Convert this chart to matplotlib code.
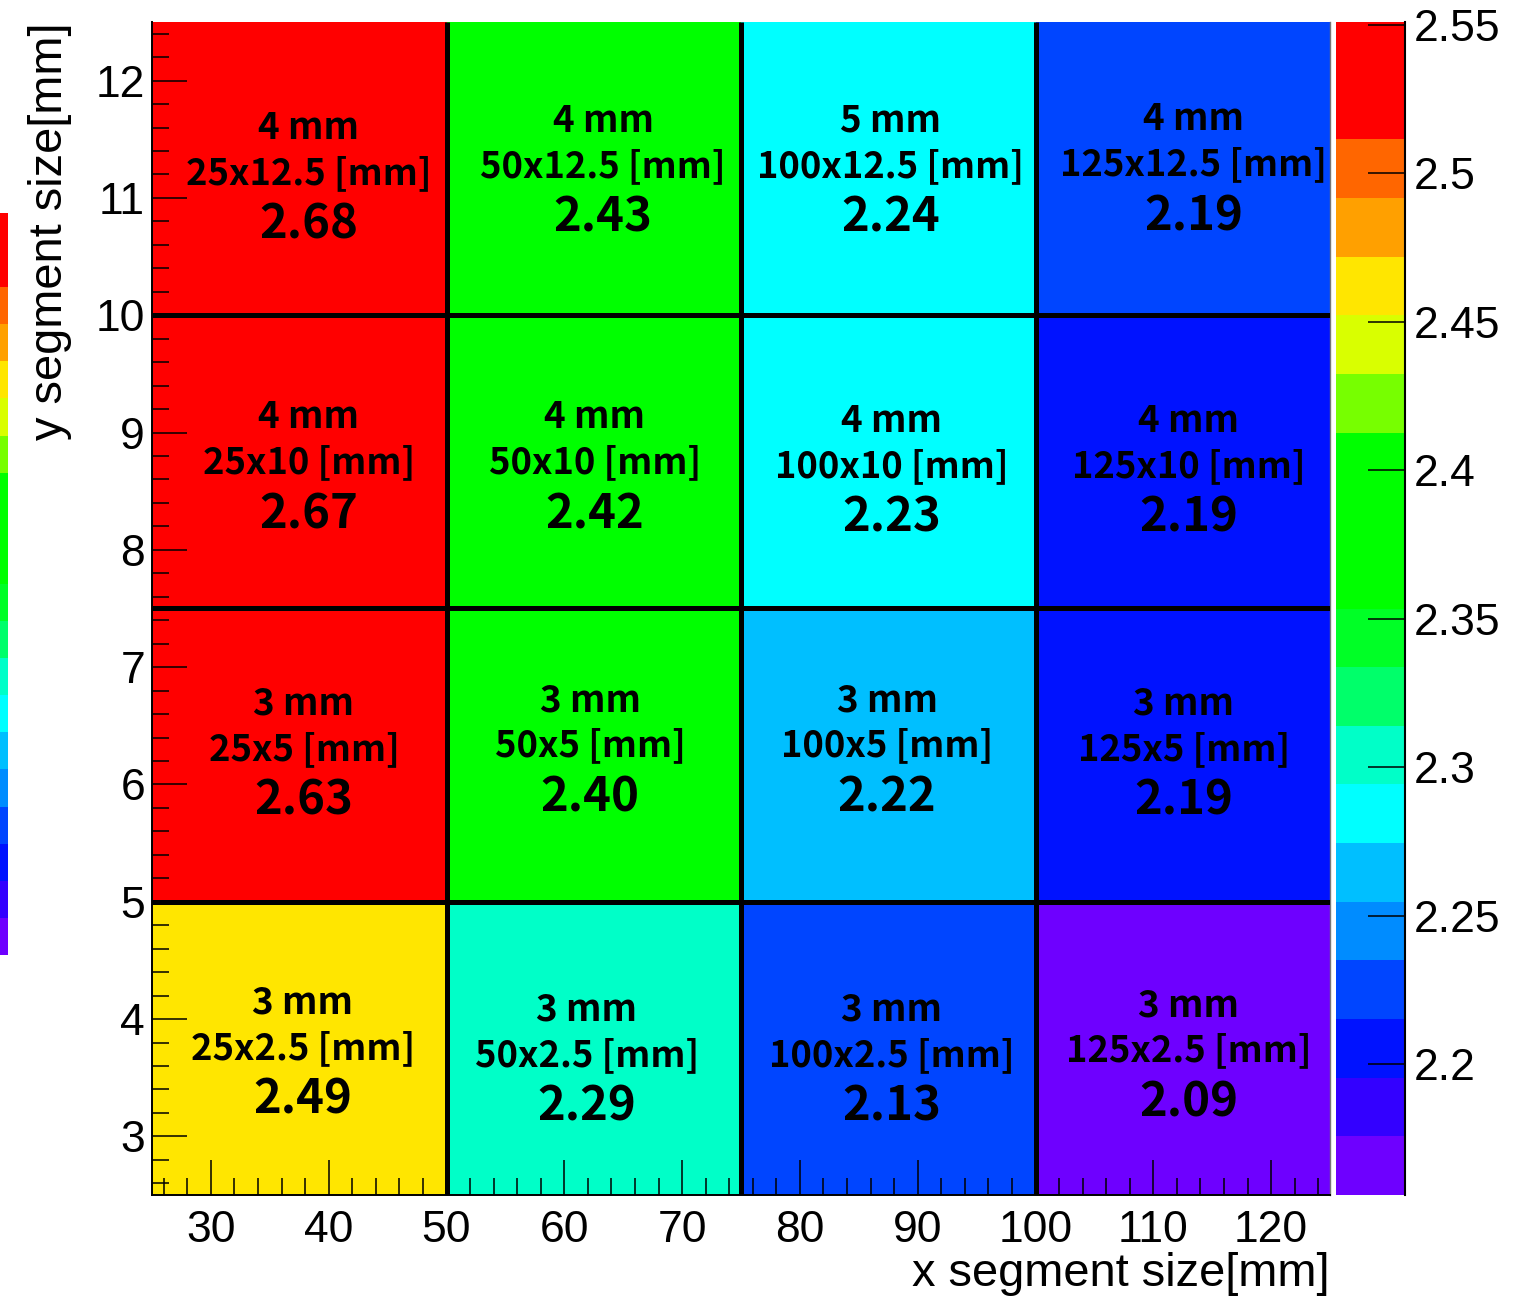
import numpy as np
import matplotlib
matplotlib.use("Agg")
import matplotlib.pyplot as plt
from matplotlib.colors import ListedColormap, BoundaryNorm
from matplotlib.ticker import MultipleLocator

# ---- data -------------------------------------------------------------
x_edges = [25, 50, 75, 100, 125]
y_edges = [2.5, 5, 7.5, 10, 12.5]
seg_x = ["25", "50", "100", "125"]
seg_y = ["2.5", "5", "10", "12.5"]

# rows run from the lowest y bin upwards
thickness = [
    ["3 mm", "3 mm", "3 mm", "3 mm"],
    ["3 mm", "3 mm", "3 mm", "3 mm"],
    ["4 mm", "4 mm", "4 mm", "4 mm"],
    ["4 mm", "4 mm", "5 mm", "4 mm"],
]
label_vals = [
    [2.49, 2.29, 2.13, 2.09],
    [2.63, 2.40, 2.22, 2.19],
    [2.67, 2.42, 2.23, 2.19],
    [2.68, 2.43, 2.24, 2.19],
]
# bin contents of the 2D histogram (colour scale)
hist_z = [
    [2.46, 2.305, 2.225, 2.165],
    [2.63, 2.37, 2.265, 2.205],
    [2.67, 2.38, 2.285, 2.205],
    [2.68, 2.38, 2.285, 2.225],
]
z_min, z_max, n_contours = 2.156, 2.551, 20
cbar_ticks = [2.2, 2.25, 2.3, 2.35, 2.4, 2.45, 2.5, 2.55]

# text anchor (middle line) per cell, data coordinates
label_xy = [
    [(37.8, 3.75), (61.9, 3.69), (87.8, 3.69), (113.0, 3.73)],
    [(37.9, 6.30), (62.2, 6.33), (87.4, 6.33), (112.6, 6.30)],
    [(38.3, 8.74), (62.6, 8.74), (87.8, 8.71), (113.0, 8.71)],
    [(38.3, 11.21), (63.3, 11.27), (87.7, 11.27), (113.4, 11.28)],
]

# ---- palette (20 contour colours, low -> high) ------------------------
palette = ["#6e00ff", "#3300ff", "#0012ff", "#0045ff", "#008cff",
           "#00bfff", "#00ffff", "#00ffc8", "#00ff6a", "#00ff26",
           "#00ff00", "#00ff00", "#00ff00", "#77ff00", "#d9ff00",
           "#ffe600", "#ffa000", "#ff6600", "#ff0000", "#ff0000"]
cmap = ListedColormap(palette)
cmap.set_over("#ff0000")
cmap.set_under("#6e00ff")
levels = np.linspace(z_min, z_max, n_contours + 1)
norm = BoundaryNorm(levels, ncolors=cmap.N, extend="neither")

AX_FONT = "Liberation Sans"
CELL_FONT = ["Noto Sans CJK JP", "DejaVu Sans"]

W, H = 1519, 1297
fig = plt.figure(figsize=(W / 100, H / 100), dpi=100)
fig.patch.set_facecolor("white")

def fx(px):
    return px / W

def fy(py):
    return 1 - py / H

ax = fig.add_axes([fx(152), fy(1195), fx(1330) - fx(152), fy(22) - fy(1195)])
mesh = ax.pcolormesh(x_edges, y_edges, np.array(hist_z), cmap=cmap, norm=norm)

# thick separators between the cells
ax.vlines(x_edges[1:-1], y_edges[0], y_edges[-1], colors="black", lw=3.6, zorder=3)
ax.hlines(y_edges[1:-1], x_edges[0], x_edges[-1], colors="black", lw=3.6, zorder=3)

ax.set_xlim(x_edges[0], x_edges[-1])
ax.set_ylim(y_edges[0], y_edges[-1])
ax.xaxis.set_major_locator(MultipleLocator(10))
ax.xaxis.set_minor_locator(MultipleLocator(2))
ax.yaxis.set_major_locator(MultipleLocator(1))
ax.yaxis.set_minor_locator(MultipleLocator(0.2))
ax.tick_params(which="both", direction="in", top=False, right=False, colors="black", width=1.1)
ax.tick_params(which="major", length=25.5)
ax.tick_params(which="minor", length=12.5)
ax.tick_params(axis="x", which="major", pad=11)
ax.tick_params(axis="y", which="major", pad=5)
for lab in ax.get_xticklabels() + ax.get_yticklabels():
    lab.set_fontfamily(AX_FONT)
    lab.set_fontsize(32)
ax.spines["top"].set_visible(False)
for s in ("left", "bottom"):
    ax.spines[s].set_linewidth(1.4)
ax.spines["right"].set_linewidth(1.0)
ax.spines["right"].set_color("#777777")

# cell annotations
for r in range(len(y_edges) - 1):
    for c in range(len(x_edges) - 1):
        x0, y0 = label_xy[r][c]
        ax.annotate(thickness[r][c], (x0, y0), xytext=(0, 32.5), textcoords="offset points",
                    ha="center", va="center", fontsize=26.5, fontweight="bold",
                    family=CELL_FONT, zorder=4)
        ax.annotate(f"{seg_x[c]}x{seg_y[r]} [mm]", (x0, y0), xytext=(0, 0),
                    textcoords="offset points", ha="center", va="center",
                    fontsize=26.2, fontweight="bold", family=CELL_FONT, zorder=4)
        ax.annotate(f"{label_vals[r][c]:.2f}", (x0, y0), xytext=(0, -37),
                    textcoords="offset points", ha="center", va="center",
                    fontsize=34, fontweight="bold", family=CELL_FONT, zorder=4)

# axis titles
fig.text(fx(50), fy(22), "y segment size[mm]", rotation=90, ha="center", va="top",
         fontsize=33.8, family=AX_FONT)
fig.text(fx(1330), fy(1274), "x segment size[mm]", ha="right", va="center",
         fontsize=33.8, family=AX_FONT)

# palette axis
cax = fig.add_axes([fx(1336), fy(1195), fx(1405) - fx(1336), fy(22) - fy(1195)])
cb = fig.colorbar(mesh, cax=cax, ticks=cbar_ticks)
cb.outline.set_visible(False)
cax.plot([1, 1], [0, 1], transform=cax.transAxes, color="black", lw=1.5, clip_on=False)
cax.tick_params(direction="in", length=27, width=1.1, right=True, left=False, pad=6)
cax.set_yticklabels([f"{t:g}" for t in cbar_ticks])
for lab in cax.get_yticklabels():
    lab.set_fontfamily(AX_FONT)
    lab.set_fontsize(32)
cax.minorticks_off()

# small palette strip on the left border
sax = fig.add_axes([0, fy(955), fx(8), fy(213) - fy(955)])
sax.imshow(np.arange(n_contours)[::-1].reshape(-1, 1), cmap=cmap, aspect="auto",
           interpolation="nearest", vmin=-0.5, vmax=n_contours - 0.5)
sax.set_axis_off()

fig.savefig("out.png", dpi=100)
